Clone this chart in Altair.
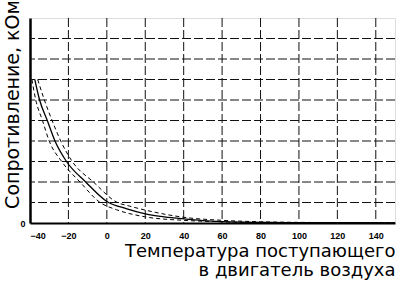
import altair as alt
import pandas as pd

# Solid (nominal) curve
t_mid = [-37.5, -35, -31, -27, -21, -11, 0, 10, 20, 30, 40, 50, 60, 80, 100, 150]
r_mid = [7.0, 6.0, 5.0, 4.0, 3.0, 2.0, 1.05, 0.7, 0.45, 0.3, 0.2, 0.12, 0.07, 0.03, 0.02, 0.01]
# Lower tolerance (dashed, left)
t_low = [-39, -37, -33.5, -30, -23.5, -14, -3.5, 5, 20, 40, 60, 80, 150]
r_low = [7.0, 6.0, 5.0, 4.0, 3.0, 2.0, 1.0, 0.65, 0.3, 0.13, 0.06, 0.03, 0.01]
# Upper tolerance (dashed, right)
t_up = [-36, -32.5, -28.5, -24, -18, -7, 5.5, 12, 20, 40, 60, 80, 100, 150]
r_up = [7.0, 6.0, 5.0, 4.0, 3.0, 2.0, 1.0, 0.82, 0.63, 0.28, 0.13, 0.06, 0.03, 0.01]

x_ticks = [-40, -20, 0, 20, 40, 60, 80, 100, 120, 140]
y_ticks = [0, 1, 2, 3, 4, 5, 6, 7, 8, 9, 10]
x_grid = [-20, 0, 20, 40, 60, 80, 100, 120, 140]
y_grid = [1, 2, 3, 4, 5, 6, 7, 8, 9]

x_title = ["Температура поступающего", "в двигатель воздуха"]
y_title = "Сопротивление, кОм"

FONT = "DejaVu Sans"

df_mid = pd.DataFrame({"t": t_mid, "r": r_mid})
df_low = pd.DataFrame({"t": t_low, "r": r_low})
df_up = pd.DataFrame({"t": t_up, "r": r_up})
df_xg = pd.DataFrame({"t": x_grid})
df_yg = pd.DataFrame({"r": y_grid})

xs = alt.Scale(domain=[-40, 150], nice=False, zero=False)
ys = alt.Scale(domain=[0, 10], nice=False)

x_axis = alt.Axis(
    values=x_ticks, title=x_title, grid=False,
    ticks=False, labelFont="Arial", labelFontSize=9, labelFontWeight="bold",
    labelColor="#000", labelPadding=8, domainColor="#000", domainWidth=2,
    titleFont=FONT, titleFontSize=18, titleFontWeight="normal", titleColor="#000",
    titleAlign="right", titleAnchor="end", titlePadding=2, titleLineHeight=19,
)
y_axis = alt.Axis(
    values=y_ticks, title=y_title, grid=False,
    ticks=False, labelExpr="datum.value == 0 ? '0' : ''",
    labelFont="Arial", labelFontSize=9, labelFontWeight="bold", labelColor="#000",
    labelPadding=5, domainColor="#000", domainWidth=2.5,
    titleFont=FONT, titleFontSize=19, titleFontWeight="normal", titleColor="#000",
    titleAngle=-90, titleX=-18, titleY=86, titleAlign="center", titleBaseline="middle",
)

xgrid = alt.Chart(df_xg).mark_rule(color="#111", strokeWidth=1, strokeDash=[9, 3]).encode(
    x=alt.X("t:Q", scale=xs, axis=x_axis)
)
ygrid = alt.Chart(df_yg).mark_rule(color="#111", strokeWidth=1, strokeDash=[9, 3]).encode(
    y=alt.Y("r:Q", scale=ys, axis=y_axis)
)

mid = alt.Chart(df_mid).mark_line(color="#000", strokeWidth=1.3, interpolate="monotone").encode(
    x=alt.X("t:Q", scale=xs), y=alt.Y("r:Q", scale=ys)
)
low = alt.Chart(df_low).mark_line(color="#000", strokeWidth=1, strokeDash=[4, 3], interpolate="monotone").encode(
    x=alt.X("t:Q", scale=xs), y=alt.Y("r:Q", scale=ys)
)
up = alt.Chart(df_up).mark_line(color="#000", strokeWidth=1, strokeDash=[4, 3], interpolate="monotone").encode(
    x=alt.X("t:Q", scale=xs), y=alt.Y("r:Q", scale=ys)
)

chart = alt.layer(xgrid, ygrid, mid, low, up).properties(
    width=365, height=205,
    autosize=alt.AutoSizeParams(type="none"),
    padding={"left": 30, "top": 18, "right": 5, "bottom": 61},
).configure_view(stroke="#000", strokeWidth=1.5).configure(background="white")

chart.save("out.html", embed_options={"renderer": "svg", "actions": False})
